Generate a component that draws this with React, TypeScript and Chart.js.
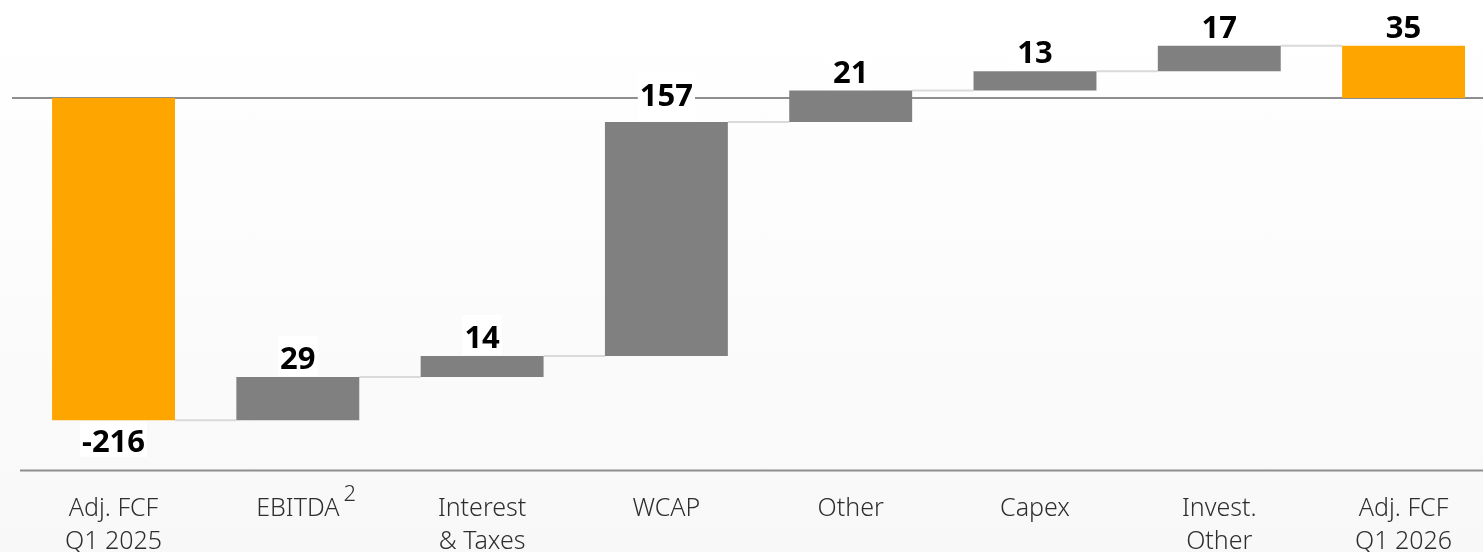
import { useEffect, useRef } from "react";
import { Chart, registerables } from "chart.js";

Chart.register(...registerables);

// ---- data ----
const categories: string[][] = [
  ["Adj. FCF", "Q1 2025"],
  ["EBITDA"],
  ["Interest", "& Taxes"],
  ["WCAP"],
  ["Other"],
  ["Capex"],
  ["Invest.", "Other"],
  ["Adj. FCF", "Q1 2026"],
];
const superscripts = ["", "2", "", "", "", "", "", ""];
const values = [-216, 29, 14, 157, 21, 13, 17, 35];
const isTotal = [true, false, false, false, false, false, false, true];
const valueLabels = ["-216", "29", "14", "157", "21", "13", "17", "35"];

// ---- axis limits ----
const Y_MIN = -250;
const Y_MAX = 65.7;
const X_MIN = -0.616;
const X_MAX = 7.431;

// ---- styles ----
const ORANGE = "#FFA500";
const GREY = "#808080";
const AXIS_LINE = "#8e8e8e";
const CONNECTOR = "#dadada";
const LABEL_FONT = 'bold 31px "Noto Sans", sans-serif';
const TICK_FAMILY = '"Noto Sans", sans-serif';

export default function App() {
  const ref = useRef<HTMLCanvasElement>(null);

  useEffect(() => {
    const canvas = ref.current!;
    const ranges: number[][] = [];
    let run = 0;
    values.forEach((v, i) => {
      if (isTotal[i]) {
        ranges.push([0, v]);
        run = v;
      } else {
        ranges.push([run, run + v]);
        run += v;
      }
    });
    const ends = ranges.map((r) => r[1]);
    const data = ranges.map((r, i) => ({ x: i, y: r }));

    const decor = {
      id: "decor",
      beforeDatasetsDraw(chart: any) {
        const { ctx, chartArea } = chart;
        const ys = chart.scales.y;
        const W = chart.width;
        const meta = chart.getDatasetMeta(0);
        ctx.save();
        // zero line
        ctx.strokeStyle = AXIS_LINE;
        ctx.lineWidth = 2;
        const y0 = ys.getPixelForValue(0);
        ctx.beginPath();
        ctx.moveTo(12, y0);
        ctx.lineTo(W, y0);
        ctx.stroke();
        // bottom line
        ctx.beginPath();
        ctx.moveTo(20, chartArea.bottom - 0.5);
        ctx.lineTo(W, chartArea.bottom - 0.5);
        ctx.stroke();
        // connectors
        ctx.strokeStyle = CONNECTOR;
        ctx.lineWidth = 2;
        for (let i = 0; i < ends.length - 1; i++) {
          const a = meta.data[i];
          const b = meta.data[i + 1];
          const yy = ys.getPixelForValue(ends[i]);
          ctx.beginPath();
          ctx.moveTo(a.x + a.width / 2, yy);
          ctx.lineTo(b.x - b.width / 2, yy);
          ctx.stroke();
        }
        ctx.restore();
      },
      afterDatasetsDraw(chart: any, _args: any, opts: any) {
        const { ctx } = chart;
        const meta = chart.getDatasetMeta(0);
        const nudge = (opts && opts.labelNudge) || {};
        ctx.save();
        ctx.font = LABEL_FONT;
        ctx.textAlign = "center";
        ctx.textBaseline = "alphabetic";
        meta.data.forEach((el: any, i: number) => {
          const top = Math.min(el.y, el.base);
          const bottom = Math.max(el.y, el.base);
          const txt = valueLabels[i];
          const w = ctx.measureText(txt).width;
          const h = 22;
          let cy: number;
          let boxTop: number;
          let boxBottom: number;
          if (values[i] >= 0) {
            cy = top - 19 + (nudge[i] || 0);
            boxTop = cy - h / 2 - 11;
            boxBottom = top - 1;
          } else {
            cy = bottom + 20.5 + (nudge[i] || 0);
            boxTop = bottom + 1;
            boxBottom = cy + h / 2 + 5;
          }
          ctx.fillStyle = "#ffffff";
          ctx.fillRect(el.x - w / 2 - 2, boxTop, w + 4, boxBottom - boxTop);
          ctx.fillStyle = "#000000";
          ctx.fillText(txt, el.x, cy + h / 2);
        });
        ctx.restore();
      },
      afterDraw(chart: any) {
        const { ctx, chartArea } = chart;
        const xs = chart.scales.x;
        ctx.save();
        superscripts.forEach((s, i) => {
          if (!s) return;
          ctx.font = `300 25px ${TICK_FAMILY}`;
          const w = ctx.measureText(categories[i][0]).width;
          const cx = xs.getPixelForValue(i);
          ctx.font = `300 22px ${TICK_FAMILY}`;
          ctx.fillStyle = "#2e2e2e";
          ctx.textAlign = "left";
          ctx.textBaseline = "alphabetic";
          ctx.fillText(s, cx + w / 2 + 4, chartArea.bottom + 30);
        });
        ctx.restore();
      },
    };

    const chart = new Chart(canvas, {
      type: "bar",
      data: {
        datasets: [
          {
            data: data as any,
            backgroundColor: isTotal.map((t) => (t ? ORANGE : GREY)),
            borderWidth: 0,
            categoryPercentage: 0.667,
            barPercentage: 1,
          },
        ],
      },
      options: {
        animation: false,
        responsive: true,
        maintainAspectRatio: false,
        layout: { padding: 0 },
        plugins: {
          legend: { display: false },
          tooltip: { enabled: false },
          decor: { labelNudge: { 3: -8 } },
        } as any,
        scales: {
          x: {
            type: "linear",
            offset: false,
            min: X_MIN,
            max: X_MAX,
            grid: { display: false, drawTicks: false, offset: false },
            border: { display: false },
            afterFit: (s: any) => {
              s.height = 81;
            },
            ticks: {
              stepSize: 1,
              includeBounds: false,
              autoSkip: false,
              maxRotation: 0,
              minRotation: 0,
              padding: 21,
              color: "#2e2e2e",
              font: { family: TICK_FAMILY, size: 25, weight: 300 as any, lineHeight: 1.32 },
              callback: (value: any) => {
                const v = Number(value);
                return Number.isInteger(v) && v >= 0 && v < categories.length ? categories[v] : "";
              },
            },
          },
          y: {
            display: false,
            min: Y_MIN,
            max: Y_MAX,
          },
        },
      },
      plugins: [decor],
    });
    return () => chart.destroy();
  }, []);

  return (
    <div
      style={{
        position: "fixed",
        left: 0,
        top: 0,
        width: 1483,
        height: 552,
        background: "linear-gradient(to bottom, #ffffff 0%, #fdfdfd 30%, #f8f8f8 100%)",
      }}
    >
      <canvas ref={ref} />
    </div>
  );
}
